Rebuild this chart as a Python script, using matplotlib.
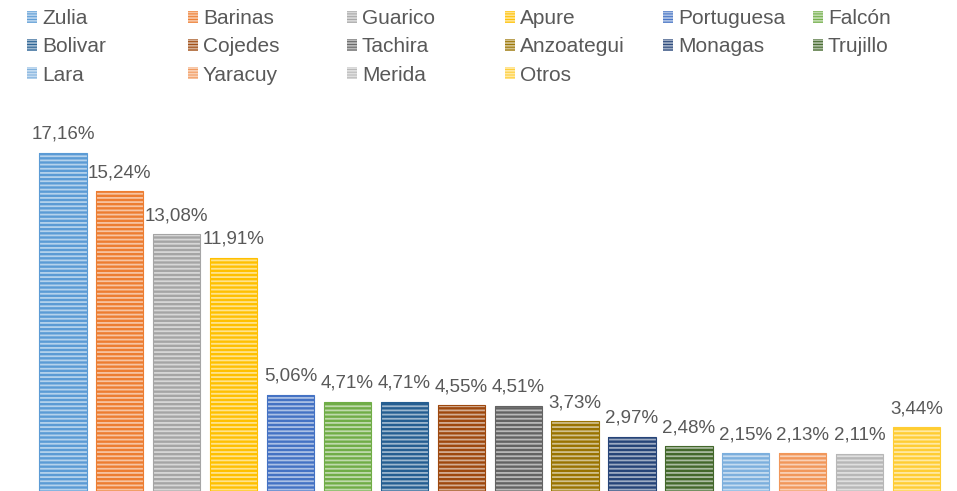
import matplotlib
matplotlib.use("Agg")
import matplotlib.pyplot as plt
import matplotlib.colors as mcolors
from matplotlib.patches import Patch

categories = ["Zulia", "Barinas", "Guarico", "Apure", "Portuguesa", "Falcón",
              "Bolivar", "Cojedes", "Tachira", "Anzoategui", "Monagas", "Trujillo",
              "Lara", "Yaracuy", "Merida", "Otros"]
values = [17.16, 15.24, 13.08, 11.91, 5.06, 4.71, 4.71, 4.55, 4.51, 3.73,
          2.97, 2.48, 2.15, 2.13, 2.11, 3.44]
colors = ["#5B9BD5", "#ED7D31", "#A5A5A5", "#FFC000", "#4472C4", "#70AD47",
          "#255E91", "#9E480E", "#636363", "#997300", "#264478", "#43682B",
          "#7CAFDD", "#F1975A", "#B7B7B7", "#FFCD33"]

plt.rcParams['font.family'] = ['Liberation Sans', 'DejaVu Sans']
plt.rcParams['hatch.linewidth'] = 1.3

W, H = 957, 491
fig = plt.figure(figsize=(W / 100, H / 100), dpi=100)
left_px, right_px = 34.5, 945.0
base_px = 496.0
ax = fig.add_axes([left_px / W, (H - base_px) / H, (right_px - left_px) / W, 400 / H])
ax.set_xlim(-0.5, len(values) - 0.5)
ax.set_ylim(0, 20)
ax.axis('off')

def lighten(c, f):
    r, g, b = mcolors.to_rgb(c)
    return (r + (1 - r) * f, g + (1 - g) * f, b + (1 - b) * f)

xs = list(range(len(values)))
for x, v, c in zip(xs, values, colors):
    ax.bar(x, v, width=0.83, color=c, edgecolor=lighten(c, 0.55), hatch='----', linewidth=0)
    ax.bar(x, v, width=0.83, fill=False, edgecolor=c, linewidth=0.8)
    ax.annotate(f"{v:.2f}%".replace('.', ','), (x, v), xytext=(0, 10), textcoords='offset points',
                ha='center', va='baseline', fontsize=13.5, color='#595959')

handles = [Patch(facecolor=c, edgecolor=lighten(c, 0.55), hatch='------', linewidth=0, label=n)
           for n, c in zip(categories, colors)]

# legend laid out in 6 columns, filled row by row (3 rows)
n_cols = 6
col_x_px = [27, 188, 347, 505, 663, 813]
for col in range(n_cols):
    idx = list(range(col, len(categories), n_cols))
    fig.legend([handles[i] for i in idx], [categories[i] for i in idx],
               loc='upper left', bbox_to_anchor=(col_x_px[col] / W, 1 - 9 / H),
               frameon=False, borderpad=0, borderaxespad=0,
               fontsize=15, labelcolor='#595959', handlelength=0.5, handleheight=0.5,
               handletextpad=0.22, labelspacing=0.45)

fig.savefig("out.png", dpi=100, facecolor='white')
